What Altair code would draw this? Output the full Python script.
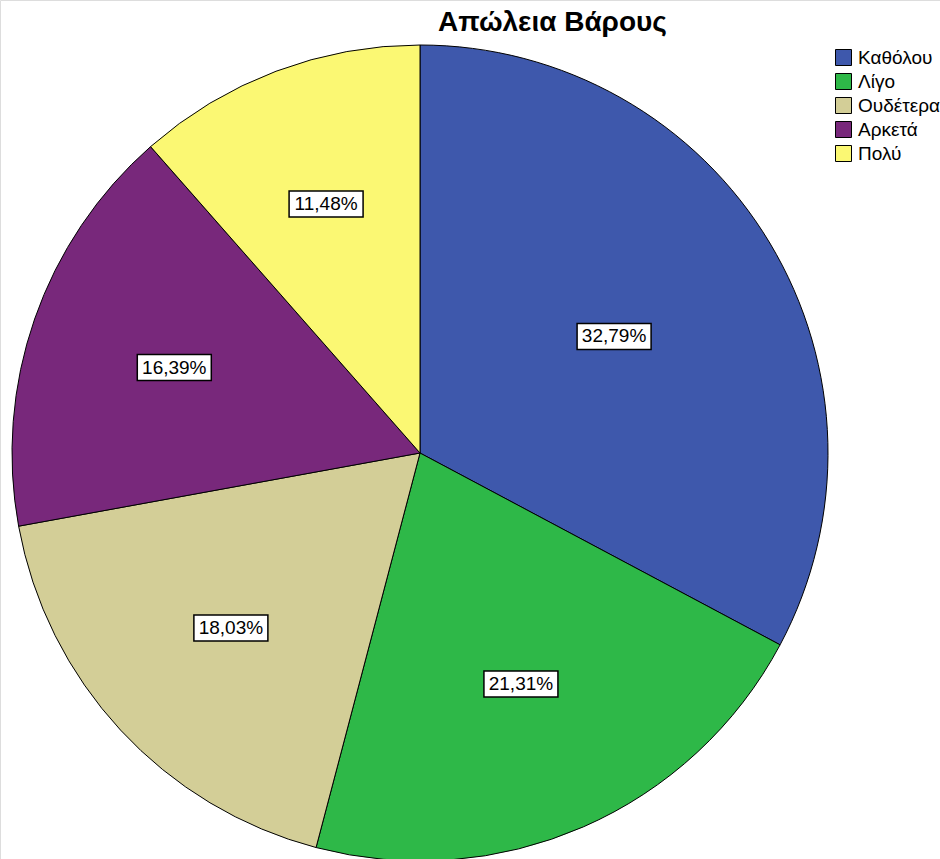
import altair as alt
import pandas as pd

categories = ["Καθόλου", "Λίγο", "Ουδέτερα", "Αρκετά", "Πολύ"]
percentages = [32.79, 21.31, 18.03, 16.39, 11.48]
colors = ["#3E58AC", "#2EB848", "#D3CE97", "#78287B", "#FBF873"]

df = pd.DataFrame({"cat": categories, "pct": percentages, "idx": list(range(len(categories)))})

W, H = 940, 859
CX, CY, R = 420, 453, 408
BW, BH = 74, 26

base = alt.Chart(df)

arcs = base.mark_arc(outerRadius=R, stroke="black", strokeWidth=1).encode(
    theta=alt.Theta("pct:Q", stack=True),
    color=alt.Color(
        "cat:N",
        scale=alt.Scale(domain=categories, range=colors),
        sort=categories,
        legend=alt.Legend(
            title=None,
            orient="none",
            legendX=834,
            legendY=48,
            symbolType="square",
            symbolSize=256,
            symbolStrokeColor="black",
            symbolStrokeWidth=1,
            symbolOpacity=1,
            labelFont="Liberation Sans",
            labelFontSize=19,
            labelColor="black",
            labelOffset=5,
            rowPadding=3,
        ),
    ),
    order=alt.Order("idx:Q"),
    x=alt.value(CX),
    y=alt.value(CY),
)

pos = base.transform_joinaggregate(total="sum(pct)").transform_window(
    cum="sum(pct)", sort=[alt.SortField("idx")], frame=[None, 0]
).transform_calculate(
    a0="(datum.cum - datum.pct) / datum.total * 2 * PI",
    a1="datum.cum / datum.total * 2 * PI",
).transform_calculate(
    mid="(datum.a0 + datum.a1) / 2",
    half="(datum.a1 - datum.a0) / 2",
).transform_calculate(
    rl=f"2 * {R} * sin(datum.half) / (3 * datum.half)",
).transform_calculate(
    lx=f"{CX} + datum.rl * sin(datum.mid)",
    ly=f"{CY} - datum.rl * cos(datum.mid)",
    label="replace(format(datum.pct, '.2f'), '.', ',') + '%'",
).transform_calculate(
    bx0=f"datum.lx - {BW/2}",
    bx1=f"datum.lx + {BW/2}",
    by0=f"datum.ly - {BH/2}",
    by1=f"datum.ly + {BH/2}",
)

xs = alt.Scale(domain=[0, W], range=[0, W])
ys = alt.Scale(domain=[0, H], range=[0, H])

boxes = pos.mark_rect(fill="white", stroke="black", strokeWidth=1.5).encode(
    x=alt.X("bx0:Q", scale=xs, axis=None),
    x2="bx1:Q",
    y=alt.Y("by0:Q", scale=ys, axis=None),
    y2="by1:Q",
)

texts = pos.mark_text(font="Liberation Sans", fontSize=19, color="black", baseline="middle", align="center").encode(
    x=alt.X("lx:Q", scale=xs, axis=None),
    y=alt.Y("ly:Q", scale=ys, axis=None),
    text="label:N",
)

chart = alt.layer(arcs, boxes, texts).properties(
    width=W,
    height=H,
    padding=0,
    autosize=alt.AutoSizeParams(type="none"),
    title=alt.Title(
        "Απώλεια Βάρους",
        font="Liberation Sans",
        fontSize=28,
        fontWeight="bold",
        color="black",
        anchor="start",
        frame="group",
        dx=438,
        dy=41,
    ),
).configure_view(stroke=None).configure(background="white")

chart.save("out.html", embed_options={"renderer": "svg", "actions": False})
